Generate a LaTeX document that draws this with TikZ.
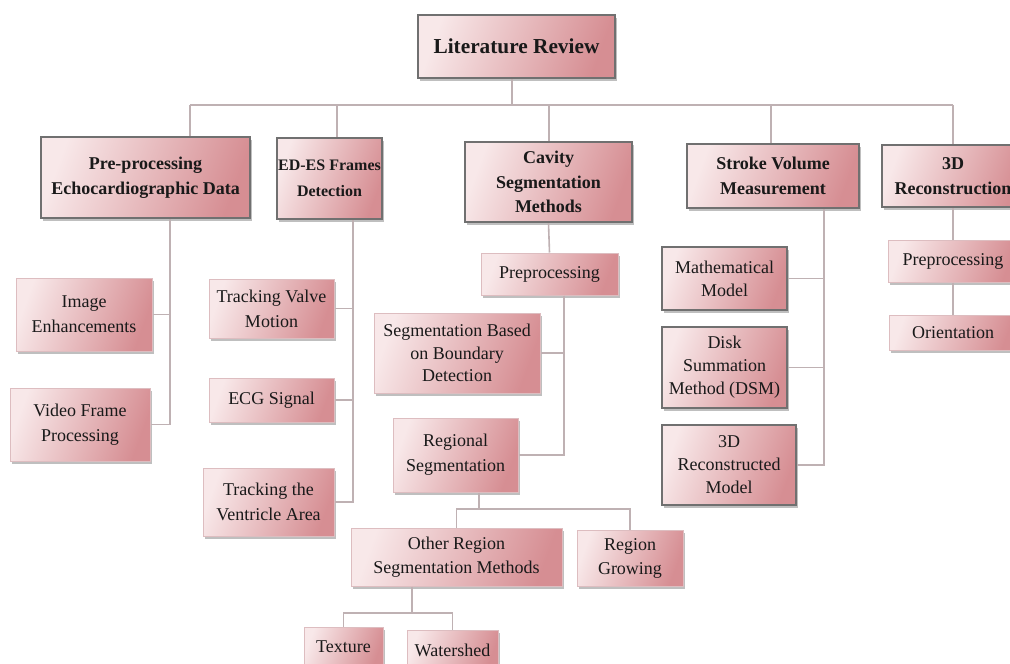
\documentclass[tikz,border=0pt]{standalone}
\usepackage{fontspec}
\setmainfont{Liberation Serif}
\usetikzlibrary{shadows}
\definecolor{pkL}{HTML}{F8E8E9}
\definecolor{pkR}{HTML}{D68E93}
\definecolor{bordD}{HTML}{707070}
\definecolor{bordL}{HTML}{DDBDC0}
\definecolor{connC}{HTML}{BFB1B3}
\tikzset{
  basebox/.style={rectangle, inner sep=0pt, align=center, text=black!90,
    left color=pkL, right color=pkR, shading angle=70,
    drop shadow={shadow xshift=2pt, shadow yshift=-2.5pt, fill=black, opacity=0.25}},
  headbox/.style={basebox, draw=bordD, line width=2.4pt,
    font=\fontsize{18}{25.5}\selectfont\bfseries},
  leafbox/.style={basebox, draw=bordL, line width=1pt,
    font=\fontsize{18}{25}\selectfont},
  darkleaf/.style={basebox, draw=bordD, line width=2.2pt,
    font=\fontsize{18}{23}\selectfont},
  conn/.style={draw=connC, line width=1.6pt},
}
\begin{document}
\begin{tikzpicture}[x=1pt,y=-1pt]
\useasboundingbox (0,0) rectangle (1010,664);
\clip (0,0) rectangle (1010,664);
\fill[white] (0,0) rectangle (1010,664);

% coordinates for trunks
\coordinate (litT) at (512,0);
\coordinate (b1) at (190,105);
\coordinate (b2) at (337,105);
\coordinate (b3) at (549,105);
\coordinate (b4) at (771,105);
\coordinate (b5) at (953,105);
\coordinate (preT) at (170,0);
\coordinate (edT) at (353,0);
\coordinate (cavT) at (564,0);
\coordinate (svT) at (824,0);
\coordinate (regT) at (479,509);
\coordinate (othT) at (412,613);

% top node
\node[headbox, font=\fontsize{21.3}{24}\selectfont\bfseries, minimum width=197pt, minimum height=63pt] (lit) at (516.5,46.5) {Literature Review};

% level 1
\node[headbox, minimum width=209pt, minimum height=81pt] (pre) at (145.5,177.5) {Pre-processing\\Echocardiographic Data};
\node[headbox, font=\fontsize{16}{26}\selectfont\bfseries, minimum width=105pt, minimum height=81pt] (ed) at (329.5,178.5) {ED-ES Frames\\Detection};
\node[headbox, minimum width=167pt, minimum height=80pt, font=\fontsize{18}{24.5}\selectfont\bfseries] (cav) at (548.5,182) {Cavity\\Segmentation\\Methods};
\node[headbox, minimum width=172pt, minimum height=64pt] (svm) at (773,176) {Stroke Volume\\Measurement};
\node[headbox, minimum width=142pt, minimum height=62pt] (r3d) at (953,176) {3D\\Reconstruction};

% connectors of the top level
\draw[conn] (b1) -- (b5);
\draw[conn] (lit.south -| litT) -- (litT |- b1);
\draw[conn] (b1) -- (b1 |- pre.north);
\draw[conn] (b2) -- (b2 |- ed.north);
\draw[conn] (b3) -- (b3 |- cav.north);
\draw[conn] (b4) -- (b4 |- svm.north);
\draw[conn] (b5) -- (b5 |- r3d.north);

% pre-processing children
\node[leafbox, minimum width=136pt, minimum height=73pt] (img) at (84,314.5) {Image\\Enhancements};
\node[leafbox, minimum width=140pt, minimum height=73pt] (vid) at (80,424.5) {Video Frame\\Processing};
\draw[conn] (pre.south -| preT) |- (img.east);
\draw[conn] (pre.south -| preT) |- (vid.east);

% ED-ES children
\node[leafbox, minimum width=125pt, minimum height=59pt] (tvm) at (271.5,308.5) {Tracking Valve\\Motion};
\node[leafbox, minimum width=125pt, minimum height=44pt] (ecg) at (271.5,400) {ECG Signal};
\node[leafbox, minimum width=131pt, minimum height=68pt] (tva) at (268.5,502) {Tracking the\\Ventricle Area};
\draw[conn] (ed.south -| edT) |- (tvm.east);
\draw[conn] (ed.south -| edT) |- (ecg.east);
\draw[conn] (ed.south -| edT) |- (tva.east);

% cavity children
\node[leafbox, minimum width=137pt, minimum height=42pt] (pre2) at (549.5,274) {Preprocessing};
\draw[conn] (cav.south) -- (pre2.north);
\node[leafbox, minimum width=166pt, minimum height=80pt, font=\fontsize{18}{22.5}\selectfont] (seg) at (457,353) {Segmentation Based\\on Boundary\\Detection};
\node[leafbox, minimum width=125pt, minimum height=74pt] (reg) at (455.5,455) {Regional\\Segmentation};
\draw[conn] (pre2.south -| cavT) |- (seg.east);
\draw[conn] (pre2.south -| cavT) |- (reg.east);

\node[leafbox, minimum width=211pt, minimum height=58pt, font=\fontsize{18}{24}\selectfont] (oth) at (456.5,557) {Other Region\\Segmentation Methods};
\node[leafbox, minimum width=106pt, minimum height=56pt, font=\fontsize{18}{24}\selectfont] (grow) at (630,558) {Region\\Growing};
\draw[conn] (reg.south -| regT) -- (regT);
\draw[conn] (oth.north) |- (regT) -| (grow.north);

\node[leafbox, minimum width=79pt, minimum height=40pt] (tex) at (343.5,647) {Texture};
\node[leafbox, minimum width=91pt, minimum height=40pt] (wat) at (452.5,650) {Watershed};
\draw[conn] (oth.south -| othT) -- (othT);
\draw[conn] (tex.north) |- (othT) -| (wat.north);

% stroke volume children
\node[darkleaf, minimum width=125pt, minimum height=63pt] (math) at (724.5,278.5) {Mathematical\\Model};
\node[darkleaf, minimum width=125pt, minimum height=81pt] (dsm) at (724.5,367.5) {Disk\\Summation\\Method (DSM)};
\node[darkleaf, minimum width=134pt, minimum height=80pt] (rec) at (729,465) {3D\\Reconstructed\\Model};
\draw[conn] (svm.south -| svT) |- (math.east);
\draw[conn] (svm.south -| svT) |- (dsm.east);
\draw[conn] (svm.south -| svT) |- (rec.east);

% 3D reconstruction children
\node[leafbox, minimum width=130pt, minimum height=42pt] (pre3) at (953,261) {Preprocessing};
\node[leafbox, minimum width=128pt, minimum height=35pt] (ori) at (953,332.5) {Orientation};
\draw[conn] (r3d.south) -- (pre3.north);
\draw[conn] (pre3.south) -- (ori.north);
\end{tikzpicture}
\end{document}
